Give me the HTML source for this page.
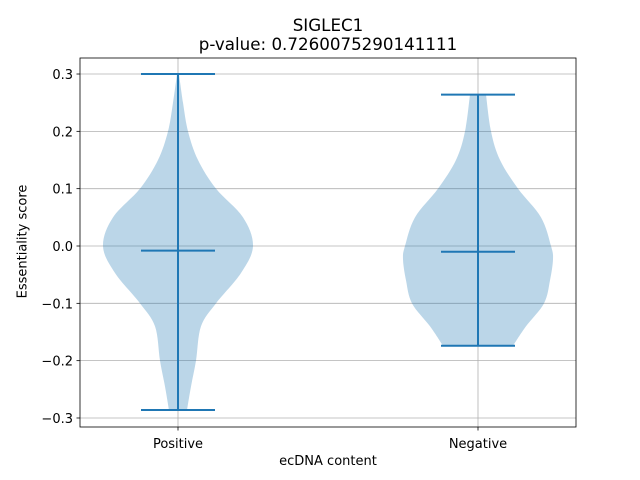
<!DOCTYPE html>
<html><head><meta charset="utf-8"><style>
body{margin:0;background:#fff}
svg{display:block;font-family:"DejaVu Sans","Liberation Sans",sans-serif}
</style></head><body>
<svg id="chart" width="640" height="480" viewBox="0 0 640 480"></svg>
<script>
const categories=["Positive","Negative"];
const posVals=[0.30,0.25,0.2,0.15,0.1,0.05,0.0,-0.047,-0.1,-0.14,-0.2,-0.245,-0.286];
const posDens=[1,5,10,20,38,65,75,63,38,23,18,13,9];
const negVals=[0.264,0.2,0.15,0.1,0.05,0.0,-0.023,-0.06,-0.1,-0.14,-0.174];
const negDens=[8,13,22,40,63,73,75,72,66,48,35];
const stats=[{min:-0.286,max:0.30,median:-0.008},{min:-0.174,max:0.264,median:-0.010}];
const yTicks=[-0.3,-0.2,-0.1,0.0,0.1,0.2,0.3];
const yTickLabels=["−0.3","−0.2","−0.1","0.0","0.1","0.2","0.3"];

const L=80,R=576,T=58,B=427;
const xPos=[178,478];
function y(v){return 246-v*573.3;}
const NS="http://www.w3.org/2000/svg";
const svg=document.getElementById('chart');
function el(t,a,p){const e=document.createElementNS(NS,t);for(const k in a)e.setAttribute(k,a[k]);(p||svg).appendChild(e);return e;}
yTicks.forEach((t,i)=>{
  const g=el('line',{x1:L,x2:R,y1:y(t),y2:y(t),stroke:'#b0b0b0','stroke-width':0.8});
  
  
  const tk=el('line',{x1:L-3.5,x2:L,y1:y(t),y2:y(t),stroke:'#000','stroke-width':0.8});
  
  
  const tx=el('text',{x:L-7,y:y(t)+5,'text-anchor':'end','font-size':13});
  tx.textContent=yTickLabels[i];
  
  
});
categories.forEach((c,i)=>{
  const g=el('line',{x1:xPos[i],x2:xPos[i],y1:T,y2:B,stroke:'#b0b0b0','stroke-width':0.8});
  
  
  const tk=el('line',{x1:xPos[i],x2:xPos[i],y1:B,y2:B+3.5,stroke:'#000','stroke-width':0.8});
  
  
  const tx=el('text',{x:xPos[i],y:B+21,'text-anchor':'middle','font-size':13});
  tx.textContent=c;
  
  
});
function smooth(pts){
  let d='M'+pts[0][0]+','+pts[0][1];
  for(let i=0;i<pts.length-1;i++){
    const p0=pts[Math.max(0,i-1)],p1=pts[i],p2=pts[i+1],p3=pts[Math.min(pts.length-1,i+2)];
    const c1=[p1[0]+(p2[0]-p0[0])/6,p1[1]+(p2[1]-p0[1])/6];
    const c2=[p2[0]-(p3[0]-p1[0])/6,p2[1]-(p3[1]-p1[1])/6];
    d+=' C'+c1[0]+','+c1[1]+' '+c2[0]+','+c2[1]+' '+p2[0]+','+p2[1];
  }
  return d;
}
[[posVals,posDens],[negVals,negDens]].forEach(([vs,ds],i)=>{
  const cx=xPos[i];
  const right=vs.map((v,k)=>[cx+ds[k],y(v)]);
  const left=vs.map((v,k)=>[cx-ds[k],y(v)]).reverse();
  const d=smooth(right)+' L'+left[0][0]+','+left[0][1]+smooth(left).replace(/^M[^C]*/,' ')+' Z';
  const p=el('path',{d:d,fill:'#1f77b4','fill-opacity':0.3,stroke:'none'});
  
  
  const s=stats[i];
  const v=el('line',{x1:cx,x2:cx,y1:y(s.max),y2:y(s.min),stroke:'#1f77b4','stroke-width':2});
  
  
  [['max',s.max],['min',s.min],['median',s.median]].forEach(([n,val])=>{
    const h=el('line',{x1:cx-37,x2:cx+37,y1:y(val),y2:y(val),stroke:'#1f77b4','stroke-width':2});
    
    
  });
});
const fr=el('rect',{x:L,y:T,width:R-L,height:B-T,fill:'none',stroke:'#000','stroke-width':0.8});


</script>
<div style="position:absolute;left:0;top:0;width:640px;height:480px;pointer-events:none;font-family:'DejaVu Sans','Liberation Sans',sans-serif">
<div style="position:absolute;left:0;width:656px;top:16px;text-align:center;font-size:16.7px;line-height:18.5px">SIGLEC1<br>p-value: 0.7260075290141111</div>
<div style="position:absolute;left:78px;width:500px;top:454px;text-align:center;font-size:13px">ecDNA content</div>
<div style="position:absolute;left:-37px;top:234px;width:120px;text-align:center;font-size:13px;transform:rotate(-90deg)">Essentiality score</div>
</div>
</body></html>
